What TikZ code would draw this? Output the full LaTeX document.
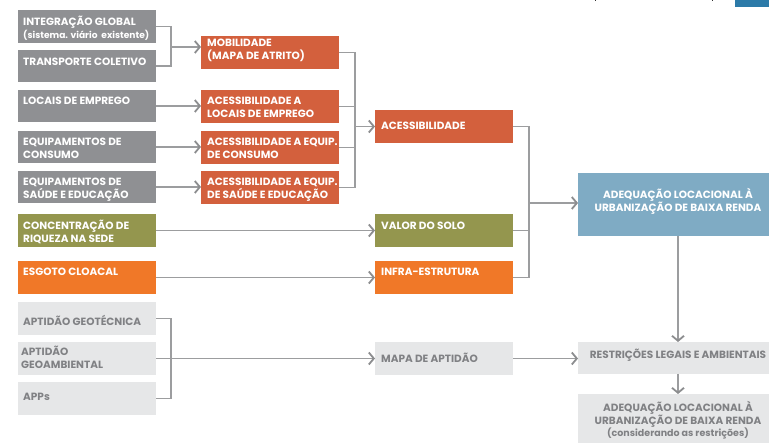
\documentclass[tikz,border=0pt]{standalone}
\usepackage{fontspec}
\setmainfont{Poppins}
\usetikzlibrary{arrows.meta,calc}
\definecolor{cgray}{HTML}{8F9093}
\definecolor{cred}{HTML}{D3603D}
\definecolor{colive}{HTML}{94964E}
\definecolor{corange}{HTML}{F07828}
\definecolor{cblue}{HTML}{7FABC4}
\definecolor{clight}{HTML}{E6E7E8}
\definecolor{ctxt}{HTML}{808184}
\definecolor{cline}{HTML}{9C9D9F}
\definecolor{ctip}{HTML}{8C8D8F}
\definecolor{ctop}{HTML}{2C7AA8}
\tikzset{
  box/.style={draw=none, anchor=north west, inner sep=0pt, outer sep=0pt},
  txt/.style={anchor=base west, inner sep=0pt, align=left, font=\bfseries\fontsize{10.5}{13}\selectfont},
  ctxtstyle/.style={anchor=base, inner sep=0pt, align=center, font=\bfseries\fontsize{10.5}{13}\selectfont},
  ln/.style={draw=cline, line width=1.2pt},
  arr/.style={ln, -{Straight Barb[length=5pt,width=12pt,line width=1.8pt,color=ctip]}},
}
% name, position, width, height, fill, text offset (to baseline of last line), text colour, text
\newcommand\mybox[8]{%
  \node[box, fill=#5, minimum width=#3, minimum height=#4] (#1) at (#2) {};
  \node[txt, text=#7] (#1t) at ($(#1.north west)+(#6)$) {#8};}
\begin{document}
\begin{tikzpicture}[x=1pt,y=-1pt]
\useasboundingbox (0,0) rectangle (769,443);
% top-right fragments
\fill[ctop] (735,0) rectangle (769,7);
\fill[black!80] (594.5,0) rectangle (596,1.5);
\fill[black!80] (711.5,0) rectangle (713,1.5);
% left column
\mybox{ig}{18,10}{138pt}{33pt}{cgray}{5,28.2}{white}{INTEGRAÇÃO GLOBAL\\{\fontsize{9.1}{13}\selectfont(sistema. viário \ existente)}}
\mybox{tc}{18,50}{138pt}{32pt}{cgray}{5,15.7}{white}{TRANSPORTE COLETIVO}
\mybox{le}{18,90}{138pt}{32pt}{cgray}{5,14.7}{white}{LOCAIS DE EMPREGO}
\mybox{ec}{18,131}{138pt}{32pt}{cgray}{5,27.7}{white}{EQUIPAMENTOS DE\\CONSUMO}
\mybox{es}{18,171}{138pt}{32pt}{cgray}{5,27.7}{white}{EQUIPAMENTOS DE\\SAÚDE E EDUCAÇÃO}
\mybox{cr}{18,214}{138pt}{33pt}{colive}{5,28.7}{white}{CONCENTRAÇÃO DE\\RIQUEZA NA SEDE}
\mybox{eg}{18,261}{138pt}{33pt}{corange}{5,14.7}{white}{ESGOTO CLOACAL}
\mybox{ag}{18,302}{138pt}{33pt}{clight}{5,23.7}{ctxt}{APTIDÃO GEOTÉCNICA}
\mybox{aa}{18,342}{138pt}{33pt}{clight}{3,26.7}{ctxt}{APTIDÃO\\GEOAMBIENTAL}
\mybox{ap}{18,382}{138pt}{33pt}{clight}{5,18.7}{ctxt}{APPs}
% second column
\mybox{mob}{201,36}{138pt}{33pt}{cred}{6,23.7}{white}{MOBILIDADE\\(MAPA DE ATRITO)}
\mybox{al}{201,90}{138pt}{33pt}{cred}{6,27.7}{white}{ACESSIBILIDADE A\\LOCAIS DE EMPREGO}
\mybox{ac}{201,131}{138pt}{33pt}{cred}{6,27.7}{white}{ACESSIBILIDADE A EQUIP.\\DE CONSUMO}
\mybox{as}{201,171}{138pt}{33pt}{cred}{6,27.7}{white}{ACESSIBILIDADE A EQUIP.\\DE SAÚDE E EDUCAÇÃO}
% third column
\mybox{acc}{375,110}{138pt}{33pt}{cred}{6,19.7}{white}{ACESSIBILIDADE}
\mybox{vs}{375,214}{138pt}{33pt}{colive}{6,15.7}{white}{VALOR DO SOLO}
\mybox{inf}{375,261}{138pt}{33pt}{corange}{6,14.7}{white}{INFRA-ESTRUTURA}
\mybox{mapa}{375,342}{138pt}{33pt}{clight}{6,20.7}{ctxt}{MAPA DE APTIDÃO}
% right column
\node[box, fill=cblue, minimum width=200pt, minimum height=63pt] (blue) at (578,173) {};
\node[ctxtstyle, text=white] (bluet) at (678,211.7) {ADEQUAÇÃO LOCACIONAL À\\URBANIZAÇÃO DE BAIXA RENDA};
\node[box, fill=clight, minimum width=200pt, minimum height=32pt] (rest) at (578,342) {};
\node[ctxtstyle, text=ctxt] (restt) at (678,358.7) {RESTRIÇÕES LEGAIS E AMBIENTAIS};
\node[box, fill=clight, minimum width=200pt, minimum height=60pt] (fin) at (578,394) {};
\node[ctxtstyle, text=ctxt, font=\bfseries\fontsize{10.5}{12}\selectfont] (fint) at (678,436.7) {ADEQUAÇÃO LOCACIONAL À\\URBANIZAÇÃO DE BAIXA RENDA\\{\fontsize{9.5}{12}\selectfont(considerando as restrições)}};
% connectors
\coordinate (j1) at (171,47);
\draw[ln] (ig.east) -| (j1);
\draw[ln] (tc.east) -| (j1);
\draw[arr] (j1) -- (j1 -| mob.west);
\draw[arr] (le.east) -- (le.east -| al.west);
\draw[arr] (ec.east) -- (ec.east -| ac.west);
\draw[arr] (es.east) -- (es.east -| as.west);
\coordinate (j2) at (355,126.5);
\draw[ln] (mob.east) -| (j2);
\draw[ln] (al.east) -| (j2);
\draw[ln] (ac.east) -| (j2);
\draw[ln] (as.east) -| (j2);
\draw[arr] (j2) -- (j2 -| acc.west);
\draw[arr] (cr.east) -- (cr.east -| vs.west);
\draw[arr] (eg.east) -- (eg.east -| inf.west);
\coordinate (j3) at (529,203);
\draw[ln] (acc.east) -| (j3);
\draw[ln] (vs.east) -| (j3);
\draw[ln] (inf.east) -| (j3);
\draw[arr] (j3) -- (j3 -| blue.west);
\coordinate (j4) at (171,358.5);
\draw[ln] (ag.east) -| (j4);
\draw[ln] (ap.east) -| (j4);
\draw[arr] (aa.east) -- (aa.east -| mapa.west);
\draw[arr] (mapa.east) -- (mapa.east -| rest.west);
\draw[arr] (blue.south) -- (rest.north);
\draw[arr] (rest.south) -- (fin.north);
\end{tikzpicture}
\end{document}
